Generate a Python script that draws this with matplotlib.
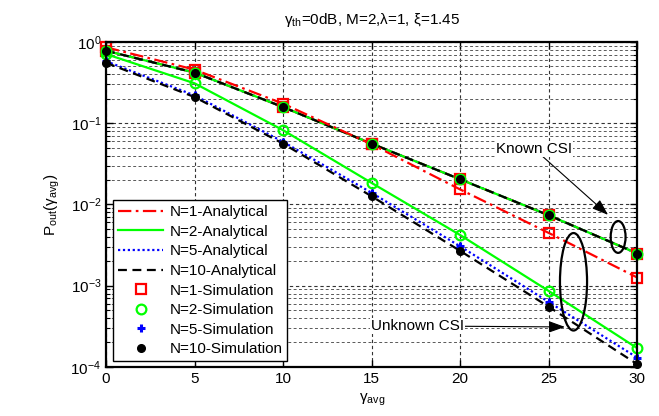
import numpy as np
import matplotlib
matplotlib.use('Agg')
import matplotlib.pyplot as plt
from matplotlib.patches import Ellipse
from matplotlib.ticker import LogLocator, NullFormatter

#=== Data ===#
snr_db = [0, 5, 10, 15, 20, 25, 30]

# known CSI: all N coincide
known_csi = [0.78, 0.42, 0.158, 0.056, 0.0204, 0.00736, 0.00249]

# unknown CSI
n1_unknown = [0.86, 0.457, 0.174, 0.055, 0.0153, 0.00446, 0.00126]
n2_unknown = [0.71, 0.31, 0.082, 0.0184, 0.0042, 0.00086, 0.00017]
n5_unknown = [0.58, 0.22, 0.059, 0.0139, 0.00305, 0.00063, 0.00013]
n10_unknown = [0.555, 0.21, 0.056, 0.0126, 0.00268, 0.00055, 0.000108]

analytical_labels = ['N=1-Analytical', 'N=2-Analytical', 'N=5-Analytical', 'N=10-Analytical']
simulation_labels = ['N=1-Simulation', 'N=2-Simulation', 'N=5-Simulation', 'N=10-Simulation']

#=== Style ===#
plt.rcParams['font.family'] = ['Liberation Sans', 'DejaVu Sans']
plt.rcParams['mathtext.fontset'] = 'custom'
plt.rcParams['mathtext.rm'] = 'Liberation Sans'
plt.rcParams['mathtext.it'] = 'Liberation Sans:italic'
plt.rcParams['font.size'] = 11

fig = plt.figure(figsize=(6.59, 4.16), dpi=100)
ax = fig.add_axes([0.161, 0.118, 0.806, 0.781])

red = '#ff0000'
green = '#00ff00'
blue = '#0000ff'
black = '#000000'
lw = 1.6

#=== Analytical lines ===#
# known CSI curves (overlapping)
ax.plot(snr_db, known_csi, color=red, ls='-.', lw=lw)
ax.plot(snr_db, known_csi, color=blue, ls=':', lw=lw)
ax.plot(snr_db, known_csi, color=green, ls='-', lw=lw)
ax.plot(snr_db, known_csi, color=black, ls=(0, (4, 2.5)), lw=lw)

# unknown CSI curves
l1, = ax.plot(snr_db, n1_unknown, color=red, ls=(0, (6, 2, 1.2, 2)), lw=lw)
l2, = ax.plot(snr_db, n2_unknown, color=green, ls='-', lw=lw)
l3, = ax.plot(snr_db, n5_unknown, color=blue, ls=(0, (1, 1.2)), lw=lw)
l4, = ax.plot(snr_db, n10_unknown, color=black, ls=(0, (4, 2.5)), lw=lw)

#=== Simulation markers ===#
sim_sets = [n1_unknown, n2_unknown, n5_unknown, n10_unknown]
styles = [dict(marker='s', mfc='none', mec=red, ms=7, mew=1.6),
          dict(marker='o', mfc='none', mec=green, ms=7, mew=1.6),
          dict(marker='+', mfc=blue, mec=blue, ms=6, mew=2.2),
          dict(marker='o', mfc=black, mec=black, ms=5.5, mew=1)]
marker_handles = []
for vals, st in zip(sim_sets, styles):
    ax.plot(snr_db, known_csi, ls='none', clip_on=False, zorder=4, **st)
    h, = ax.plot(snr_db, vals, ls='none', clip_on=False, zorder=4, **st)
    marker_handles.append(h)

#=== Axes ===#
ax.set_yscale('log')
ax.set_xlim(0, 30)
ax.set_ylim(1e-4, 1)
ax.set_xticks([0, 5, 10, 15, 20, 25, 30])
ax.yaxis.set_major_locator(LogLocator(base=10, numticks=10))
ax.yaxis.set_minor_locator(LogLocator(base=10, subs=np.arange(2, 10), numticks=20))
ax.yaxis.set_minor_formatter(NullFormatter())
ax.tick_params(which='both', direction='in', top=True, right=True, labelsize=11)
ax.tick_params(which='major', length=5, width=1)
ax.tick_params(which='minor', length=3, width=0.8)
for sp in ax.spines.values():
    sp.set_linewidth(1.6)
    sp.set_zorder(5)

ax.grid(True, which='major', color='0.2', ls=(0, (3, 2.5)), lw=0.8)
ax.grid(True, which='minor', axis='y', color='0.35', ls=(0, (3, 2.5)), lw=0.7)
ax.set_axisbelow(True)

ax.set_title('γ$_{\\mathregular{th}}$=0dB, M=2,λ=1, ξ=1.45', fontsize=11, pad=13)
ax.set_xlabel('γ$_{\\mathregular{avg}}$', fontsize=11)
ax.set_ylabel('P$_{\\mathregular{out}}$(γ$_{\\mathregular{avg}}$)', fontsize=11, labelpad=6)

#=== Annotations ===#
ax.add_patch(Ellipse((0.964, 0.40), 0.028, 0.098, transform=ax.transAxes,
                     fill=False, ec='black', lw=1.6, zorder=5))
ax.add_patch(Ellipse((0.880, 0.262), 0.051, 0.30, transform=ax.transAxes,
                     fill=False, ec='black', lw=1.6, zorder=5))

bbox = dict(boxstyle='square,pad=0.05', fc='white', ec='none')
arrow = dict(arrowstyle='-|>,head_length=0.9,head_width=0.32', color='black',
             lw=0.8, shrinkA=0, shrinkB=0)
ax.annotate('Known CSI', xy=(0.945, 0.468), xycoords='axes fraction',
            xytext=(0.806, 0.671), textcoords='axes fraction', ha='center', va='center',
            bbox=bbox, zorder=6, arrowprops=arrow)
ax.annotate('Unknown CSI', xy=(0.864, 0.123), xycoords='axes fraction',
            xytext=(0.586, 0.126), textcoords='axes fraction', ha='center', va='center',
            bbox=bbox, zorder=6, arrowprops=arrow)

#=== Legend ===#
leg = ax.legend([l1, l2, l3, l4] + marker_handles, analytical_labels + simulation_labels,
                loc='lower left', bbox_to_anchor=(0.013, 0.018), borderaxespad=0,
                fontsize=11, handlelength=3.0, handletextpad=0.4, labelspacing=0.37,
                borderpad=0.3, fancybox=False, framealpha=1, edgecolor='black', numpoints=1)
leg.get_frame().set_linewidth(1.0)
leg.set_zorder(10)

fig.savefig('out.png', dpi=100)
